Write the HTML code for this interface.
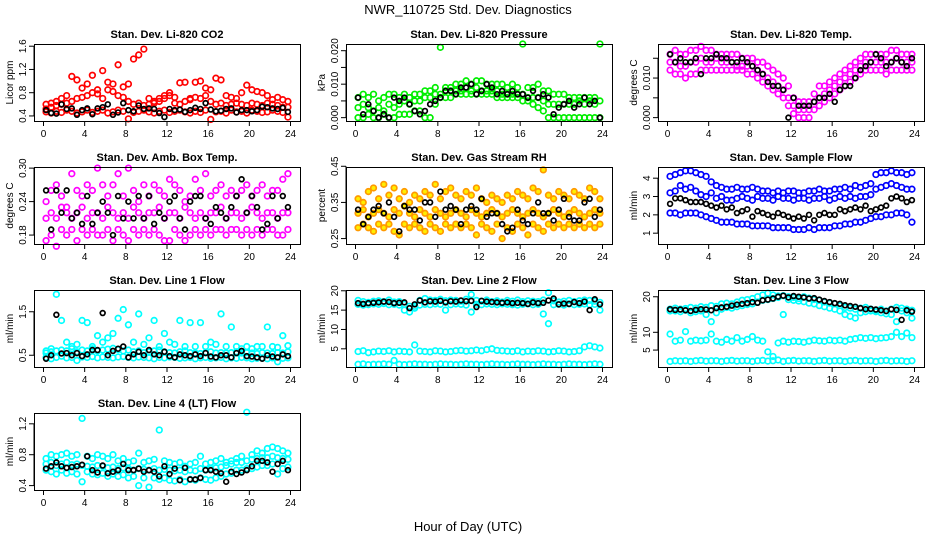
<!DOCTYPE html>
<html><head><meta charset="utf-8"><style>
body{margin:0;background:#fff;}
svg{display:block;font-family:"Liberation Sans",sans-serif;}
</style></head><body>
<svg id="c" width="936" height="540" xmlns="http://www.w3.org/2000/svg">
<text x="468" y="14" text-anchor="middle" font-size="13">NWR_110725  Std. Dev. Diagnostics</text>
<text x="468" y="531" text-anchor="middle" font-size="13">Hour of Day (UTC)</text>
</svg>
<script>
const p1_red_a=[0.6,0.62,0.65,0.7,0.75,1.08,1.02,0.88,0.95,1.1,0.85,1.18,0.98,0.95,1.28,0.9,0.95,1.38,1.45,1.55,0.7,0.65,0.7,0.75,0.8,0.72,0.97,0.98,0.7,0.98,1.0,0.88,0.85,1.05,1.02,0.75,0.72,0.7,0.8,0.93,0.85,0.82,0.8,0.75,0.68,0.72,0.68,0.65];
const p1_red_b=[0.52,0.55,0.58,0.6,0.62,0.65,0.7,0.72,0.75,0.8,0.78,0.7,0.85,0.82,0.75,0.72,0.65,0.6,0.62,0.58,0.6,0.62,0.65,0.7,0.75,0.62,0.6,0.65,0.68,0.72,0.7,0.75,0.65,0.6,0.62,0.58,0.6,0.62,0.6,0.58,0.62,0.6,0.58,0.62,0.6,0.58,0.55,0.55];
const p1_red_c=[0.47,0.45,0.48,0.46,0.5,0.48,0.45,0.47,0.5,0.46,0.48,0.5,0.45,0.47,0.5,0.48,0.35,0.46,0.48,0.5,0.47,0.45,0.48,0.5,0.46,0.48,0.5,0.47,0.45,0.48,0.46,0.5,0.34,0.47,0.48,0.45,0.5,0.47,0.48,0.45,0.5,0.48,0.46,0.47,0.5,0.48,0.46,0.38];
const p1_black=[0.5,0.45,0.44,0.6,0.52,0.53,0.42,0.5,0.53,0.43,0.53,0.55,0.6,0.42,0.46,0.62,0.5,0.48,0.58,0.52,0.53,0.52,0.45,0.38,0.52,0.5,0.51,0.47,0.5,0.54,0.52,0.62,0.51,0.48,0.49,0.52,0.53,0.46,0.5,0.5,0.48,0.5,0.56,0.55,0.53,0.52,0.54,0.47];
const p2_top=[0.006,0.007,0.006,0.007,0.005,0.006,0.007,0.007,0.006,0.007,0.006,0.007,0.007,0.008,0.008,0.009,0.021,0.009,0.009,0.010,0.010,0.011,0.010,0.011,0.011,0.010,0.010,0.010,0.010,0.009,0.010,0.009,0.022,0.009,0.009,0.010,0.008,0.008,0.007,0.007,0.007,0.006,0.006,0.006,0.006,0.006,0.006,0.022];
const p2_mid=[0.003,0.004,0.003,0.002,0.003,0.002,0.004,0.003,0.004,0.005,0.004,0.005,0.005,0.006,0.006,0.007,0.007,0.008,0.008,0.008,0.008,0.009,0.008,0.009,0.008,0.008,0.008,0.008,0.007,0.007,0.007,0.007,0.007,0.006,0.006,0.006,0.005,0.004,0.004,0.004,0.004,0.004,0.004,0.005,0.004,0.005,0.004,0.005];
const p2_low=[0,0,0.001,0,0,0.001,0,0,0.001,0.001,0.001,0.002,0.002,0,0,0.004,0.006,0.006,0.006,0.007,0.007,0.007,0.007,0.007,0.007,0.007,0.007,0.006,0.006,0.006,0.006,0.006,0.005,0.005,0.004,0.003,0.002,0,0,0,0,0,0,0,0,0,0,0];
const p2_black=[0.006,0.001,0.004,0.002,0,0.001,0,0.006,0.005,0.006,0.004,0.002,0.001,0.002,0.004,0.005,0.006,0.008,0.008,0.007,0.009,0.009,0.010,0.007,0.008,0.010,0.009,0.007,0.008,0.007,0.008,0.007,0.007,0.006,0.008,0.006,0.007,0.006,0.001,0.003,0.004,0.005,0.003,0.004,0.006,0.004,0.005,0];
const p3_top=[0.016,0.017,0.016,0.016,0.017,0.017,0.018,0.017,0.017,0.016,0.016,0.016,0.016,0.016,0.015,0.015,0.015,0.014,0.014,0.013,0.012,0.011,0.010,0.008,0.005,0.004,0.004,0.004,0.006,0.008,0.008,0.009,0.010,0.011,0.012,0.013,0.014,0.015,0.016,0.016,0.016,0.016,0.016,0.017,0.017,0.016,0.016,0.016];
const p3_mid=[0.014,0.014,0.013,0.013,0.014,0.014,0.015,0.014,0.014,0.015,0.014,0.014,0.014,0.013,0.013,0.013,0.013,0.012,0.011,0.010,0.009,0.008,0.007,0.005,0.003,0.002,0.002,0.002,0.004,0.005,0.006,0.007,0.008,0.009,0.010,0.011,0.012,0.013,0.014,0.014,0.014,0.014,0.014,0.014,0.015,0.014,0.014,0.014];
const p3_low=[0.012,0.011,0.011,0.010,0.011,0.011,0.012,0.012,0.012,0.012,0.012,0.012,0.012,0.012,0.012,0.011,0.011,0.010,0.009,0.008,0.007,0.006,0.005,0.003,0.001,0,0,0,0.002,0.003,0.004,0.005,0.006,0.007,0.008,0.009,0.010,0.011,0.012,0.012,0.012,0.012,0.011,0.012,0.012,0.012,0.012,0.012];
const p3_black=[0.016,0.014,0.015,0.014,0.014,0.015,0.011,0.015,0.015,0.016,0.015,0.015,0.014,0.014,0.015,0.014,0.013,0.012,0.011,0.009,0.008,0.008,0.007,0,0.005,0.003,0.003,0.003,0.004,0.005,0.005,0.006,0.004,0.007,0.008,0.008,0.010,0.012,0.013,0.014,0.016,0.015,0.013,0.014,0.015,0.014,0.013,0.015];
const p4_a=[0.24,0.26,0.27,0.25,0.23,0.29,0.26,0.25,0.27,0.26,0.3,0.27,0.25,0.27,0.29,0.25,0.3,0.26,0.24,0.27,0.25,0.27,0.26,0.25,0.28,0.27,0.26,0.24,0.25,0.28,0.26,0.29,0.25,0.26,0.27,0.25,0.26,0.25,0.26,0.27,0.25,0.26,0.27,0.25,0.26,0.26,0.28,0.29];
const p4_b=[0.21,0.22,0.21,0.23,0.22,0.21,0.22,0.23,0.21,0.22,0.22,0.21,0.23,0.22,0.21,0.22,0.21,0.23,0.22,0.21,0.22,0.22,0.23,0.21,0.22,0.22,0.21,0.23,0.22,0.21,0.22,0.21,0.22,0.22,0.23,0.21,0.22,0.22,0.21,0.22,0.23,0.22,0.21,0.22,0.22,0.21,0.22,0.22];
const p4_c=[0.17,0.18,0.16,0.19,0.18,0.19,0.17,0.19,0.18,0.19,0.18,0.18,0.19,0.17,0.19,0.18,0.17,0.19,0.18,0.19,0.18,0.19,0.18,0.17,0.17,0.19,0.18,0.17,0.18,0.19,0.18,0.19,0.18,0.19,0.19,0.18,0.19,0.19,0.18,0.19,0.18,0.19,0.18,0.19,0.19,0.18,0.18,0.19];
const p4_black=[0.26,0.19,0.26,0.22,0.26,0.21,0.22,0.20,0.25,0.20,0.22,0.24,0.22,0.18,0.25,0.21,0.24,0.21,0.25,0.21,0.25,0.20,0.22,0.21,0.24,0.25,0.21,0.19,0.24,0.25,0.25,0.21,0.20,0.23,0.22,0.21,0.23,0.25,0.28,0.22,0.25,0.23,0.19,0.20,0.25,0.21,0.25,0.23];
const p5_a=[0.36,0.35,0.38,0.39,0.36,0.4,0.37,0.39,0.36,0.38,0.35,0.37,0.36,0.38,0.37,0.4,0.36,0.38,0.39,0.37,0.36,0.38,0.37,0.39,0.36,0.35,0.37,0.36,0.35,0.37,0.36,0.38,0.37,0.36,0.39,0.38,0.44,0.37,0.36,0.38,0.37,0.36,0.38,0.37,0.36,0.39,0.38,0.36];
const p5_b=[0.32,0.33,0.31,0.32,0.33,0.32,0.31,0.33,0.32,0.34,0.32,0.31,0.33,0.32,0.31,0.33,0.32,0.31,0.32,0.33,0.32,0.31,0.33,0.32,0.31,0.32,0.33,0.32,0.31,0.32,0.33,0.32,0.31,0.32,0.33,0.32,0.31,0.32,0.33,0.32,0.31,0.32,0.33,0.32,0.31,0.32,0.33,0.32];
const p5_c=[0.28,0.29,0.28,0.27,0.29,0.28,0.29,0.27,0.26,0.29,0.28,0.29,0.28,0.27,0.29,0.28,0.27,0.29,0.28,0.29,0.28,0.29,0.28,0.26,0.29,0.28,0.27,0.29,0.25,0.28,0.27,0.29,0.28,0.26,0.29,0.28,0.27,0.29,0.28,0.29,0.28,0.29,0.28,0.29,0.28,0.29,0.28,0.29];
const p5_black=[0.33,0.29,0.31,0.33,0.34,0.32,0.35,0.31,0.27,0.34,0.33,0.33,0.3,0.35,0.35,0.31,0.38,0.33,0.34,0.33,0.29,0.33,0.34,0.33,0.36,0.31,0.32,0.32,0.29,0.27,0.28,0.33,0.3,0.29,0.32,0.35,0.32,0.32,0.3,0.33,0.36,0.31,0.3,0.3,0.35,0.36,0.31,0.33];
const p6_top=[4.1,4.2,4.3,4.4,4.4,4.3,4.2,4.1,3.8,3.6,3.5,3.4,3.4,3.5,3.4,3.4,3.5,3.4,3.3,3.3,3.2,3.3,3.2,3.3,3.3,3.2,3.2,3.3,3.3,3.4,3.3,3.3,3.4,3.4,3.5,3.4,3.6,3.5,3.6,3.7,4.2,4.3,4.3,4.4,4.3,4.3,4.2,4.3];
const p6_mid=[3.2,3.3,3.6,3.4,3.5,3.3,3.1,3.0,3.2,2.9,3.0,2.8,2.8,2.9,3.0,2.9,2.8,3.0,2.9,2.9,2.8,3.0,2.9,2.9,2.8,2.9,2.9,2.8,2.9,2.9,3.0,2.8,2.9,3.0,2.9,3.0,2.9,3.0,3.0,3.1,3.4,3.5,3.6,3.7,3.6,3.5,3.4,3.4];
const p6_low=[2.1,2.1,2.0,2.1,2.1,2.1,2.0,1.9,1.8,1.7,1.6,1.6,1.6,1.5,1.5,1.5,1.4,1.4,1.4,1.4,1.3,1.3,1.3,1.3,1.2,1.2,1.2,1.3,1.2,1.3,1.3,1.3,1.4,1.4,1.5,1.5,1.6,1.6,1.7,1.8,1.9,1.9,2.0,2.0,2.1,2.1,2.0,1.6];
const p6_black=[2.6,2.9,2.9,2.8,2.7,2.7,2.7,2.6,2.5,2.4,2.5,2.3,2.4,2.1,2.2,2.3,1.9,2.2,2.1,2.0,1.9,2.1,2.0,1.9,1.8,1.9,1.8,2.0,1.7,2.0,2.1,2.0,2.0,2.3,2.2,2.3,2.4,2.3,2.5,2.2,2.3,2.4,2.5,2.9,3.0,2.9,2.7,2.8];
const p7_a=[0.6,0.65,1.9,1.3,0.8,0.7,0.75,1.3,1.25,0.7,0.95,0.8,0.9,1.0,1.35,1.55,1.2,0.8,1.45,0.75,0.9,1.3,0.7,1.0,0.8,0.75,1.3,0.7,1.25,0.7,1.25,0.7,0.8,0.75,1.45,0.7,1.15,0.7,0.65,0.7,0.65,0.7,0.7,1.15,0.7,0.68,0.95,0.72];
const p7_b=[0.55,0.58,0.6,0.62,0.6,0.65,0.58,0.62,0.6,0.65,0.6,0.62,0.64,0.66,0.63,0.6,0.62,0.58,0.6,0.56,0.58,0.6,0.62,0.58,0.56,0.55,0.58,0.6,0.56,0.55,0.54,0.56,0.58,0.55,0.56,0.55,0.56,0.58,0.55,0.56,0.55,0.54,0.56,0.55,0.54,0.56,0.55,0.58];
const p7_c=[0.45,0.42,0.45,0.48,0.44,0.45,0.38,0.46,0.45,0.47,0.44,0.46,0.45,0.44,0.46,0.47,0.45,0.44,0.46,0.45,0.44,0.42,0.45,0.44,0.46,0.45,0.43,0.44,0.45,0.42,0.44,0.45,0.43,0.44,0.45,0.42,0.44,0.43,0.45,0.44,0.42,0.43,0.44,0.42,0.44,0.35,0.43,0.44];
const p7_black=[0.42,0.5,1.43,0.54,0.55,0.5,0.55,0.48,0.52,0.62,0.62,1.47,0.5,0.6,0.65,0.7,0.45,0.52,0.58,0.5,0.62,0.52,0.5,0.58,0.48,0.45,0.52,0.5,0.48,0.52,0.48,0.55,0.47,0.45,0.5,0.5,0.45,0.55,0.6,0.48,0.47,0.45,0.42,0.5,0.47,0.45,0.52,0.48];
const p8_a=[17.5,17.2,17,17.3,17.4,17.2,17.6,17.1,17.2,16.5,16,15.5,17.5,18,17.6,17.5,17.8,17.4,17.6,17.5,17.3,17.8,19,17.5,17.3,17.6,17.2,17.4,17.1,17.5,17.3,17.6,17.2,17.4,17.3,17.2,17.6,19.5,17.4,17.1,17.3,17.5,17.2,17.4,17.6,17.5,17.3,17];
const p8_b=[16.5,16.3,16.4,16.6,16.5,16.7,16.4,16.5,16.3,15,14.5,16,16.3,16.5,16.4,16.6,16.5,15,16.4,16.6,16.5,16.3,14.5,16.5,16.4,16.6,16.5,16.4,16.6,16.5,16.4,16.3,16.5,16.6,16.4,16.5,14,11.5,16.4,16.5,16.3,16.6,16.4,16.5,16.6,16.4,16.5,15];
const p8_c=[4.3,4.5,4,4.2,4.4,4.3,4.5,4.2,4.4,4.3,4.2,6,4.4,4.3,4.2,4.5,4.4,4.2,4.3,4.5,4.6,4.4,4.5,4.7,4.5,4.8,5,4.6,4.5,4.4,4.3,4.5,4.2,4.4,4.3,4.5,4.4,4.2,4.3,4.5,4.4,4.2,4.3,4.5,5.5,5.8,5.5,5.2];
const p8_d=[1,1.1,0.9,1,1,1.1,1,2,1,0.9,1,1.1,1,1,0.9,1,1.1,1,1,0.9,1,1.1,1,1,0.9,1,1.1,1,1,0.9,1,1.1,1,1,0.9,1,1.1,1,1,0.9,1,1.1,1,1,0.9,1,1.1,1];
const p8_black=[16.8,16.6,16.8,16.9,17,17.2,17.1,16.8,16.9,17,15.5,16.5,17.5,17,17.3,17.2,17.4,17,17.3,17.2,17.5,17.3,17.4,15.8,17.4,17.2,17.1,17,16.9,17,16.8,16.9,16.8,16.6,17,16.8,16.9,17.5,18,16.5,16.7,16.6,17.1,16.8,17.2,15,17.8,16.5];
const p9_a=[16.5,16.8,16.5,16.7,17,16.8,17.2,17,17.5,17.3,18,18.2,18,18.5,19,19.2,19.5,20,20.5,21,20.5,20.2,20.3,20,19.8,19.5,20,19.6,19.2,19,18.5,18.2,18,17.5,17,16.8,16.5,16.8,17,16.5,16.2,16.5,16,16.5,17,16.8,16.5,16.2];
const p9_b=[16,16,15.8,16.2,15.5,15.8,16,15,13,15.5,16.5,17,16.8,17.2,17.5,17.8,18,18.5,19,19.2,19.5,19.8,15,19.2,19,18.8,18.6,18.2,18,17.5,17.2,16.8,16.5,16,15,14.5,14,15.5,15.8,16,15.8,15.5,15.2,15,13,16,15.5,14];
const p9_c=[9.5,7.5,7.8,10.2,7.5,7.8,7.6,7.8,9.5,7.5,7.2,8,7.5,8.5,7.5,8,8.8,7.8,7.5,4.5,3.2,7,7.5,7.2,7.5,7.4,7.2,7.5,7.8,7.6,7.5,7.8,7.6,7.8,7.5,8,8.2,8.5,8.3,8.5,8.2,8.4,8.5,8.8,10,8.8,9.8,8.5];
const p9_d=[1.8,2,1.9,2,1.8,2,2.1,1.9,2,2,1.8,2,2.1,1.9,2,2,1.8,2,2.1,1.9,2,2.2,1.8,2,2.1,1.9,2,2,1.8,2,2.1,1.9,2,2,1.8,2,2.1,1.9,2,2,1.8,2,2.1,1.9,2,2,1.8,2];
const p9_black=[16.5,16.3,16.4,16.2,16,16.3,16.5,16.4,16.2,16.8,17,17.2,17.5,17.8,18,18.2,18.5,18.3,19,19.2,19.5,20,20.3,19.8,20.2,20,19.8,19.5,19.6,19.2,18.8,18.5,18.2,18,17.6,17.4,17.2,16.8,16.5,16.6,16.4,16.2,16,16.5,16.3,13.5,16.2,15.8];
const p10_a=[0.75,0.8,0.78,0.8,0.82,0.78,0.8,1.27,0.78,0.75,0.8,0.78,0.75,0.8,0.72,0.75,0.7,0.72,0.82,0.7,0.72,0.74,1.12,0.72,0.7,0.68,0.7,0.65,0.68,0.7,0.78,0.68,0.7,0.72,0.75,0.7,0.72,0.75,0.78,1.35,0.8,0.85,0.82,0.88,0.9,0.88,0.85,0.82];
const p10_b=[0.68,0.7,0.66,0.68,0.7,0.67,0.68,0.66,0.65,0.64,0.66,0.65,0.63,0.64,0.62,0.63,0.62,0.6,0.62,0.61,0.6,0.62,0.6,0.61,0.6,0.59,0.6,0.58,0.6,0.59,0.62,0.6,0.62,0.63,0.64,0.66,0.68,0.7,0.7,0.72,0.74,0.75,0.76,0.76,0.78,0.76,0.75,0.74];
const p10_c=[0.6,0.58,0.55,0.6,0.56,0.58,0.55,0.45,0.58,0.55,0.54,0.56,0.52,0.55,0.52,0.54,0.5,0.52,0.4,0.5,0.38,0.5,0.48,0.5,0.47,0.46,0.48,0.45,0.48,0.47,0.5,0.48,0.47,0.5,0.52,0.55,0.56,0.6,0.6,0.62,0.62,0.64,0.66,0.66,0.68,0.55,0.62,0.64];
const p10_black=[0.62,0.65,0.7,0.65,0.63,0.64,0.65,0.67,0.78,0.6,0.57,0.66,0.56,0.58,0.6,0.68,0.6,0.6,0.62,0.58,0.6,0.58,0.52,0.65,0.55,0.62,0.47,0.63,0.48,0.48,0.5,0.6,0.6,0.58,0.56,0.45,0.58,0.55,0.57,0.6,0.65,0.72,0.72,0.7,0.58,0.68,0.72,0.6];
const xTicks=[0,4,8,12,16,20,24];
const p1_ticks=["0.4","0.8","1.2","1.6"];
const p2_ticks=["0.000","0.010","0.020"];
const p3_ticks=["0.000","0.005","0.010","0.015"];
const p4_ticks=["0.18","0.24","0.30"];
const p5_ticks=["0.25","0.35","0.45"];
const p6_ticks=["1","2","3","4"];
const p7_ticks=["0.5","1.5"];
const p8_ticks=["5","10","15","20"];
const p9_ticks=["5","10","20"];
const p10_ticks=["0.4","0.8","1.2"];

const NS="http://www.w3.org/2000/svg";
const svg=document.getElementById('c');
function mk(tag,attrs,parent){const e=document.createElementNS(NS,tag);for(const k in attrs)e.setAttribute(k,attrs[k]);(parent||svg).appendChild(e);return e;}
const panels=[
 {id:'co2',title:'Stan. Dev. Li-820 CO2',yl:'Licor ppm',c:0,r:0,lo:0.313,hi:1.638,ticks:p1_ticks,series:[[p1_red_a,'#ff0000'],[p1_red_b,'#ff0000'],[p1_red_c,'#ff0000'],[p1_black,'#000']]},
 {id:'pressure',title:'Stan. Dev. Li-820 Pressure',yl:'kPa',c:1,r:0,lo:-0.001,hi:0.022,ticks:p2_ticks,minor:[0.005,0.015],series:[[p2_top,'#00ee00'],[p2_mid,'#00ee00'],[p2_low,'#00ee00'],[p2_black,'#000']]},
 {id:'temp',title:'Stan. Dev. Li-820 Temp.',yl:'degrees C',c:2,r:0,lo:-0.00085,hi:0.0186,ticks:p3_ticks,hide:["0.005","0.015"],series:[[p3_top,'#ff00ff'],[p3_mid,'#ff00ff'],[p3_low,'#ff00ff'],[p3_black,'#000']]},
 {id:'amb-box-temp',title:'Stan. Dev. Amb. Box Temp.',yl:'degrees C',c:0,r:1,lo:0.164,hi:0.302,ticks:p4_ticks,series:[[p4_a,'#ff00ff'],[p4_b,'#ff00ff'],[p4_c,'#ff00ff'],[p4_black,'#000']]},
 {id:'gas-rh',title:'Stan. Dev. Gas Stream RH',yl:'percent',c:1,r:1,lo:0.235,hi:0.448,ticks:p5_ticks,series:[[p5_a,'#ff9900'],[p5_b,'#ff9900'],[p5_c,'#ff9900'],[p5_black,'#000']],fill:'#ffee00'},
 {id:'sample-flow',title:'Stan. Dev. Sample Flow',yl:'ml/min',c:2,r:1,lo:0.41,hi:4.61,ticks:p6_ticks,series:[[p6_top,'#0000ff'],[p6_mid,'#0000ff'],[p6_low,'#0000ff'],[p6_black,'#000']]},
 {id:'line1-flow',title:'Stan. Dev. Line 1 Flow',yl:'ml/min',c:0,r:2,lo:0.23,hi:2.0,ticks:p7_ticks,series:[[p7_a,'#00ffff'],[p7_b,'#00ffff'],[p7_c,'#00ffff'],[p7_black,'#000']]},
 {id:'line2-flow',title:'Stan. Dev. Line 2 Flow',yl:'ml/min',c:1,r:2,lo:0.3,hi:20.2,ticks:p8_ticks,series:[[p8_a,'#00ffff'],[p8_b,'#00ffff'],[p8_c,'#00ffff'],[p8_d,'#00ffff'],[p8_black,'#000']]},
 {id:'line3-flow',title:'Stan. Dev. Line 3 Flow',yl:'ml/min',c:2,r:2,lo:0.24,hi:21.9,ticks:p9_ticks,series:[[p9_a,'#00ffff'],[p9_b,'#00ffff'],[p9_c,'#00ffff'],[p9_d,'#00ffff'],[p9_black,'#000']]},
 {id:'line4-flow',title:'Stan. Dev. Line 4 (LT) Flow',yl:'ml/min',c:0,r:3,lo:0.343,hi:1.34,ticks:p10_ticks,series:[[p10_a,'#00ffff'],[p10_b,'#00ffff'],[p10_c,'#00ffff'],[p10_black,'#000']]}
];
panels.forEach(p=>{
 const L=34+312*p.c, T=44+123*p.r, W=266, H=77;
 const g=mk('g',{});
 
 
 const xs=v=>L+9.5+v*(W-19)/24;
 const ys=v=>T+H-(v-p.lo)/(p.hi-p.lo)*H;
 const t=mk('text',{x:L+W/2,y:T-6,'text-anchor':'middle','font-size':11,'font-weight':'bold'},g);t.textContent=p.title;
 
 
 const yt=mk('text',{x:0,y:0,'text-anchor':'middle','font-size':10,transform:`translate(${L-21},${T+H/2}) rotate(-90)`},g);yt.textContent=p.yl;
 
 
 xTicks.forEach(v=>{
  mk('line',{x1:xs(v),x2:xs(v),y1:T+H,y2:T+H+5,stroke:'#000','stroke-width':1},g);
  const tx=mk('text',{x:xs(v),y:T+H+16,'text-anchor':'middle','font-size':10},g);tx.textContent=v;
  
  
 });
 mk('line',{x1:xs(0),x2:xs(24),y1:T+H+0.5,y2:T+H+0.5,stroke:'#000'},g);
 p.ticks.forEach(s=>{
  const v=parseFloat(s), y=ys(v);
  mk('line',{x1:L-5,x2:L,y1:y,y2:y,stroke:'#000'},g);
  if(p.hide&&p.hide.includes(s))return;
  const ty=mk('text',{x:0,y:0,'text-anchor':'middle','font-size':10,transform:`translate(${L-8},${y}) rotate(-90)`},g);ty.textContent=s;
  
  
 });
 if(p.minor)p.minor.forEach(v=>mk('line',{x1:L-5,x2:L,y1:ys(v),y2:ys(v),stroke:'#000'},g));
 mk('line',{x1:L,x2:L,y1:ys(parseFloat(p.ticks[0])),y2:ys(parseFloat(p.ticks[p.ticks.length-1])),stroke:'#000'},g);
 const clip=mk('g',{},g);
 p.series.forEach(([arr,col])=>{
  const isBlack=col==='#000';
  arr.forEach((v,i)=>{
   const x=i*0.5+0.25;
   const ci=mk('circle',{cx:xs(x),cy:ys(v),r:isBlack?2.4:2.8,fill:(p.fill&&!isBlack)?p.fill:'none',stroke:col,'stroke-width':isBlack?1.7:1.7},clip);
   
   
  });
 });
 const box=mk('rect',{x:L+0.5,y:T+0.5,width:W,height:H,fill:'none',stroke:'#000','stroke-width':1},g);
 
 
});
</script>
</body></html>
